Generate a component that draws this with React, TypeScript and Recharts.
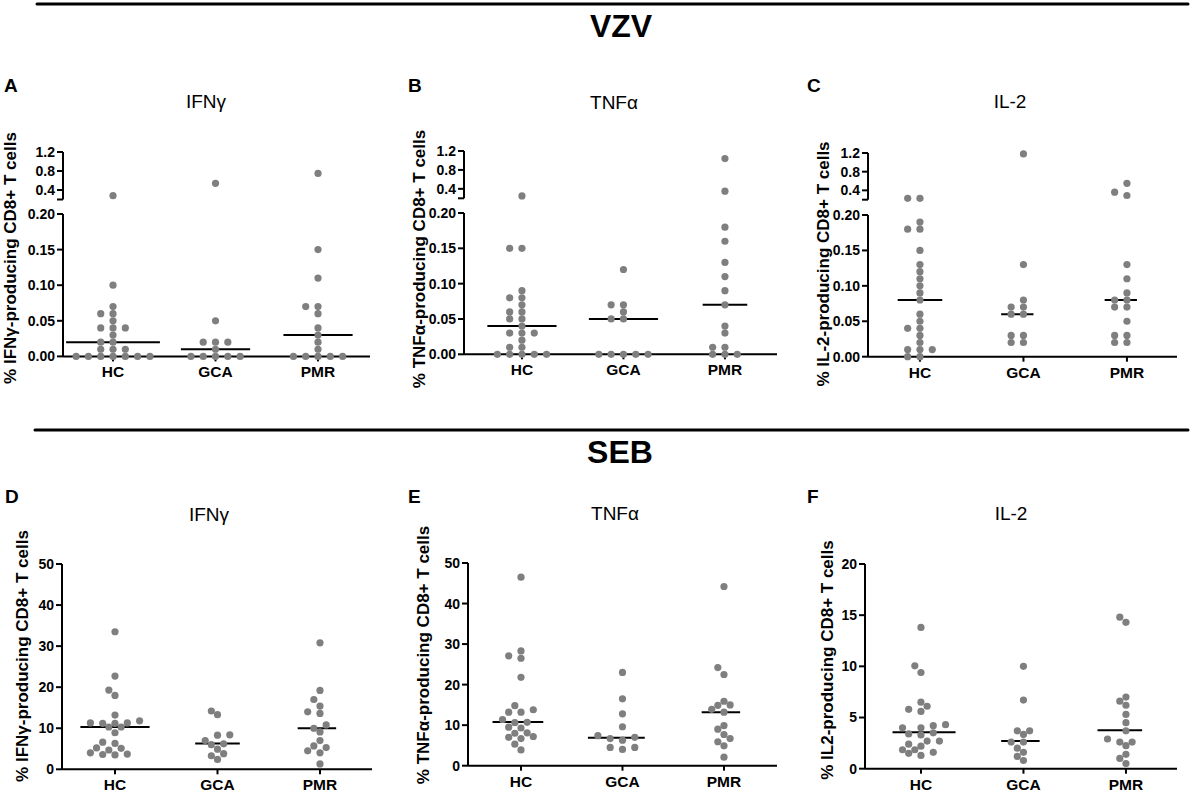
import React from "react";
import { ReferenceLine, Scatter, ScatterChart, XAxis, YAxis } from "recharts";

// Dot plots of cytokine-producing CD8+ T cells (% of CD8+), VZV on top, SEB below.
// Values; horizontal spread is a simple beeswarm.

const GROUPS = ["HC", "GCA", "PMR"];

// VZV, IFNγ
const vzvIfngHC = [0.28, 0.1, 0.07, 0.06, 0.06, 0.05, 0.04, 0.04, 0.04, 0.03, 0.02, 0.02, 0.01, 0.01, 0.01, 0, 0, 0, 0, 0, 0, 0];
const vzvIfngGCA = [0.54, 0.05, 0.02, 0.02, 0.02, 0.01, 0, 0, 0, 0, 0];
const vzvIfngPMR = [0.75, 0.15, 0.11, 0.07, 0.07, 0.06, 0.04, 0.03, 0.02, 0.01, 0, 0, 0, 0, 0];
const vzvIfngMedian = [0.02, 0.01, 0.03];

// VZV, TNFα
const vzvTnfHC = [0.25, 0.15, 0.15, 0.09, 0.08, 0.08, 0.07, 0.06, 0.06, 0.05, 0.05, 0.04, 0.03, 0.03, 0.03, 0.02, 0.01, 0.01, 0, 0, 0, 0, 0];
const vzvTnfGCA = [0.12, 0.07, 0.07, 0.06, 0.05, 0.05, 0, 0, 0, 0, 0];
const vzvTnfPMR = [1.04, 0.35, 0.18, 0.16, 0.13, 0.11, 0.09, 0.07, 0.04, 0.03, 0.01, 0.01, 0, 0, 0];
const vzvTnfMedian = [0.04, 0.05, 0.07];

// VZV, IL-2
const vzvIl2HC = [0.23, 0.23, 0.19, 0.18, 0.18, 0.15, 0.13, 0.12, 0.11, 0.1, 0.09, 0.08, 0.06, 0.05, 0.04, 0.04, 0.03, 0.02, 0.01, 0.01, 0.01, 0, 0];
const vzvIl2GCA = [1.18, 0.13, 0.08, 0.07, 0.07, 0.06, 0.06, 0.03, 0.03, 0.02, 0.02];
const vzvIl2PMR = [0.55, 0.36, 0.29, 0.13, 0.11, 0.09, 0.08, 0.08, 0.07, 0.07, 0.05, 0.03, 0.03, 0.02, 0.02];
const vzvIl2Median = [0.08, 0.06, 0.08];

// SEB, IFNγ
const sebIfngHC = [33.5, 22.7, 19.3, 18.0, 13.2, 11.8, 11.3, 11.3, 11.2, 11.2, 10.3, 10.3, 8.9, 6.6, 6.3, 5.2, 5.1, 4.7, 4.0, 3.7, 3.6, 3.5];
const sebIfngGCA = [14.2, 13.3, 8.4, 8.3, 7.0, 6.2, 6.0, 4.9, 3.8, 3.3, 2.4];
const sebIfngPMR = [30.8, 19.2, 17.0, 15.4, 14.0, 13.6, 10.8, 10.0, 9.1, 7.0, 5.7, 5.3, 4.5, 4.0, 1.3];
const sebIfngMedian = [10.3, 6.3, 10.0];

// SEB, TNFα
const sebTnfHC = [46.5, 28.3, 27.1, 26.5, 21.8, 14.8, 13.8, 13.2, 13.2, 11.4, 10.7, 10.6, 9.5, 9.3, 8.1, 8.0, 7.2, 7.0, 6.7, 5.3, 3.9];
const sebTnfGCA = [23.0, 16.5, 12.8, 9.6, 7.4, 7.0, 6.7, 6.3, 4.5, 4.5, 4.0];
const sebTnfPMR = [44.2, 24.2, 22.5, 15.9, 15.0, 14.9, 13.9, 13.2, 9.9, 9.0, 7.7, 6.7, 5.9, 4.9, 2.1];
const sebTnfMedian = [10.8, 6.9, 13.2];

// SEB, IL-2
const sebIl2HC = [13.8, 10.05, 9.4, 6.5, 6.1, 5.8, 5.6, 4.3, 4.2, 4.0, 4.0, 3.5, 3.4, 3.3, 2.7, 2.7, 2.4, 2.2, 1.85, 1.85, 1.6, 1.5, 1.3];
const sebIl2GCA = [10.0, 6.7, 3.7, 3.7, 3.35, 2.6, 2.6, 2.0, 1.6, 1.2, 0.8];
const sebIl2PMR = [14.8, 14.3, 7.0, 6.6, 6.2, 5.3, 4.5, 3.7, 2.9, 2.6, 2.6, 2.25, 1.4, 1.0, 0.5];
const sebIl2Median = [3.55, 2.7, 3.75];

const vzvLowTicks = [0, 0.05, 0.1, 0.15, 0.2];
const vzvHighTicks = [0.2, 0.4, 0.8, 1.2];
const sebTicks50 = [0, 10, 20, 30, 40, 50];
const sebTicks20 = [0, 5, 10, 15, 20];

const FONT = '"Liberation Sans", Arial, Helvetica, sans-serif';
const DOT = "#7f7f7f";
const YW = 46; // y-axis width
const MT = 10; // top margin for tick labels
const MR = 6;
const XH = 32; // x-axis height
const STEP = 12.3; // dot spacing in a row
const DIA = 7; // collision distance

const axisStyle = { stroke: "#000", strokeWidth: 2 };
const yTick = { fill: "#000", fontSize: 14, fontWeight: 700, fontFamily: FONT };
const xTick = { fill: "#000", fontSize: 15.5, fontWeight: 700, fontFamily: FONT };

const Dot = (p: any) => <circle cx={p.cx} cy={p.cy} r={3.6} fill={DOT} />;

// greedy beeswarm on a half-step grid, in pixels
function swarmOffsets(values: number[], toPx: (v: number) => number) {
  const order = values.map((_, i) => i).sort((a, b) => values[a] - values[b]);
  const placed: { dx: number; py: number }[] = [];
  const out = values.map(() => 0);
  for (const i of order) {
    const py = toPx(values[i]);
    for (let k = 0; k < 60; k++) {
      const n = Math.ceil(k / 2) * (k % 2 ? -1 : 1);
      const dx = (n * STEP) / 2;
      const free = placed.every((p) => (p.dx - dx) ** 2 + (p.py - py) ** 2 >= DIA * DIA - 0.01);
      if (free) {
        out[i] = dx;
        placed.push({ dx, py });
        break;
      }
    }
  }
  return out;
}

function swarm(groups: number[][], toPx: (v: number) => number, step: number) {
  return groups.map((vals, gi) => {
    const offs = swarmOffsets(vals, toPx);
    return {
      pts: vals.map((v, i) => ({ x: gi + offs[i] / step, y: v })),
      lo: gi + (Math.min(...offs) - 10) / step,
      hi: gi + (Math.max(...offs) + 10) / step,
    };
  });
}

type Geo = { x: number; w: number; xLo: number; step: number };

function xAxisProps(geo: Geo) {
  return {
    type: "number" as const,
    dataKey: "x",
    domain: [geo.xLo, geo.xLo + geo.w / geo.step],
    ticks: [0, 1, 2],
    interval: 0 as const,
    tickFormatter: (v: number) => GROUPS[v] ?? "",
  };
}

function medianLines(sw: ReturnType<typeof swarm>, medians: number[]) {
  return medians.map((m, gi) => (
    <ReferenceLine
      key={"med" + gi}
      segment={[
        { x: sw[gi].lo, y: m },
        { x: sw[gi].hi, y: m },
      ]}
      stroke="#000"
      strokeWidth={2}
      ifOverflow="visible"
    />
  ));
}

type BrokenGeo = Geo & { hiTop: number; hiBot: number; loTop: number; loBot: number };

function BrokenPanel({ geo, groups, medians }: { geo: BrokenGeo; groups: number[][]; medians: number[] }) {
  const lowH = geo.loBot - geo.loTop;
  const hiH = geo.hiBot - geo.hiTop;
  const toPx = (v: number) => (v <= 0.2 ? geo.loBot - (v / 0.2) * lowH : geo.hiBot - (v - 0.2) * hiH);
  const sw = swarm(groups, toPx, geo.step);
  const chartW = YW + geo.w + MR;
  return (
    <>
      <div style={{ position: "absolute", left: geo.x - YW, top: geo.hiTop - MT }}>
        <ScatterChart width={chartW} height={MT + hiH + 2} margin={{ top: MT, right: MR, bottom: 2, left: 0 }}>
          <XAxis {...xAxisProps(geo)} hide />
          <YAxis
            type="number"
            dataKey="y"
            domain={[0.2, 1.2]}
            ticks={vzvHighTicks}
            interval={0}
            width={YW}
            tickFormatter={(v: number) => (v === 0.2 ? "" : v.toFixed(1))}
            axisLine={axisStyle}
            tickLine={axisStyle}
            tickSize={6}
            tickMargin={2}
            tick={yTick}
          />
          {sw.map((g, gi) => (
            <Scatter key={gi} data={g.pts.filter((p) => p.y > 0.2)} shape={Dot} isAnimationActive={false} />
          ))}
        </ScatterChart>
      </div>
      <div style={{ position: "absolute", left: geo.x - YW, top: geo.loTop - MT }}>
        <ScatterChart width={chartW} height={MT + lowH + XH} margin={{ top: MT, right: MR, bottom: 0, left: 0 }}>
          <XAxis {...xAxisProps(geo)} height={XH} axisLine={axisStyle} tickLine={axisStyle} tickSize={5} tickMargin={5} tick={xTick} />
          <YAxis
            type="number"
            dataKey="y"
            domain={[0, 0.2]}
            ticks={vzvLowTicks}
            interval={0}
            width={YW}
            tickFormatter={(v: number) => v.toFixed(2)}
            axisLine={axisStyle}
            tickLine={axisStyle}
            tickSize={6}
            tickMargin={2}
            tick={yTick}
          />
          {sw.map((g, gi) => (
            <Scatter key={gi} data={g.pts.filter((p) => p.y <= 0.2)} shape={Dot} isAnimationActive={false} />
          ))}
          {medianLines(sw, medians)}
        </ScatterChart>
      </div>
    </>
  );
}

type PlainGeo = Geo & { top: number; bot: number };

function PlainPanel({ geo, groups, medians, ticks }: { geo: PlainGeo; groups: number[][]; medians: number[]; ticks: number[] }) {
  const h = geo.bot - geo.top;
  const max = ticks[ticks.length - 1];
  const toPx = (v: number) => geo.bot - (v / max) * h;
  const sw = swarm(groups, toPx, geo.step);
  return (
    <div style={{ position: "absolute", left: geo.x - YW, top: geo.top - MT }}>
      <ScatterChart width={YW + geo.w + MR} height={MT + h + XH} margin={{ top: MT, right: MR, bottom: 0, left: 0 }}>
        <XAxis {...xAxisProps(geo)} height={XH} axisLine={axisStyle} tickLine={axisStyle} tickSize={5} tickMargin={5} tick={xTick} />
        <YAxis
          type="number"
          dataKey="y"
          domain={[0, max]}
          ticks={ticks}
          interval={0}
          width={YW}
          axisLine={axisStyle}
          tickLine={axisStyle}
          tickSize={6}
          tickMargin={2}
          tick={yTick}
        />
        {sw.map((g, gi) => (
          <Scatter key={gi} data={g.pts} shape={Dot} isAnimationActive={false} />
        ))}
        {medianLines(sw, medians)}
      </ScatterChart>
    </div>
  );
}

const geoA: BrokenGeo = { x: 63, w: 307, xLo: -0.488, step: 102.5, hiTop: 152, hiBot: 199.5, loTop: 214.3, loBot: 356.7 };
const geoB: BrokenGeo = { x: 464, w: 313, xLo: -0.571, step: 101.5, hiTop: 150.7, hiBot: 198, loTop: 213, loBot: 354.3 };
const geoC: BrokenGeo = { x: 868, w: 309, xLo: -0.502, step: 103.5, hiTop: 153.3, hiBot: 200, loTop: 215, loBot: 356.7 };
const geoD: PlainGeo = { x: 62, w: 310, xLo: -0.517, step: 102.5, top: 563.7, bot: 769 };
const geoE: PlainGeo = { x: 468, w: 309, xLo: -0.522, step: 101.5, top: 563, bot: 765.7 };
const geoF: PlainGeo = { x: 865, w: 312, xLo: -0.546, step: 102.5, top: 564.3, bot: 769 };

const letters = [
  { t: "A", x: 4, y: 92 },
  { t: "B", x: 408, y: 92 },
  { t: "C", x: 807, y: 92 },
  { t: "D", x: 5, y: 503 },
  { t: "E", x: 408, y: 503 },
  { t: "F", x: 807, y: 503 },
];

const subtitles = [
  { t: "IFNγ", x: 206, y: 108 },
  { t: "TNFα", x: 614, y: 109 },
  { t: "IL-2", x: 1010, y: 108 },
  { t: "IFNγ", x: 209, y: 521 },
  { t: "TNFα", x: 615, y: 520 },
  { t: "IL-2", x: 1011, y: 520 },
];

const yLabels = [
  { t: "% IFNγ-producing CD8+ T cells", x: 10, y: 258 },
  { t: "% TNFα-producing CD8+ T cells", x: 419, y: 259 },
  { t: "% IL-2-producing CD8+ T cells", x: 823, y: 264 },
  { t: "% IFNγ-producing CD8+ T cells", x: 22, y: 656 },
  { t: "% TNFα-producing CD8+ T cells", x: 423, y: 655 },
  { t: "% IL2-producing CD8+ T cells", x: 827, y: 660 },
];

export default function App() {
  return (
    <div style={{ position: "relative", width: 1192, height: 793, background: "#fff", fontFamily: FONT, overflow: "hidden" }}>
      <style>{"body{margin:0}"}</style>
      <BrokenPanel geo={geoA} groups={[vzvIfngHC, vzvIfngGCA, vzvIfngPMR]} medians={vzvIfngMedian} />
      <BrokenPanel geo={geoB} groups={[vzvTnfHC, vzvTnfGCA, vzvTnfPMR]} medians={vzvTnfMedian} />
      <BrokenPanel geo={geoC} groups={[vzvIl2HC, vzvIl2GCA, vzvIl2PMR]} medians={vzvIl2Median} />
      <PlainPanel geo={geoD} groups={[sebIfngHC, sebIfngGCA, sebIfngPMR]} medians={sebIfngMedian} ticks={sebTicks50} />
      <PlainPanel geo={geoE} groups={[sebTnfHC, sebTnfGCA, sebTnfPMR]} medians={sebTnfMedian} ticks={sebTicks50} />
      <PlainPanel geo={geoF} groups={[sebIl2HC, sebIl2GCA, sebIl2PMR]} medians={sebIl2Median} ticks={sebTicks20} />
      <svg width={1192} height={793} style={{ position: "absolute", left: 0, top: 0, pointerEvents: "none" }} fontFamily={FONT}>
        <line x1={37} y1={4} x2={1188} y2={4} stroke="#000" strokeWidth={3} strokeLinecap="round" />
        <line x1={35} y1={430} x2={1188} y2={430} stroke="#000" strokeWidth={3} strokeLinecap="round" />
        <text x={621} y={37} textAnchor="middle" fontSize={32} fontWeight={700}>VZV</text>
        <text x={620} y={463} textAnchor="middle" fontSize={32} fontWeight={700}>SEB</text>
        {letters.map((l) => (
          <text key={l.t} x={l.x} y={l.y} fontSize={19} fontWeight={700}>{l.t}</text>
        ))}
        {subtitles.map((s, i) => (
          <text key={i} x={s.x} y={s.y} textAnchor="middle" fontSize={19}>{s.t}</text>
        ))}
        {yLabels.map((l, i) => (
          <text
            key={i}
            x={l.x}
            y={l.y}
            textAnchor="middle"
            dominantBaseline="central"
            fontSize={17}
            fontWeight={700}
            transform={`rotate(-90 ${l.x} ${l.y})`}
          >
            {l.t}
          </text>
        ))}
      </svg>
    </div>
  );
}
